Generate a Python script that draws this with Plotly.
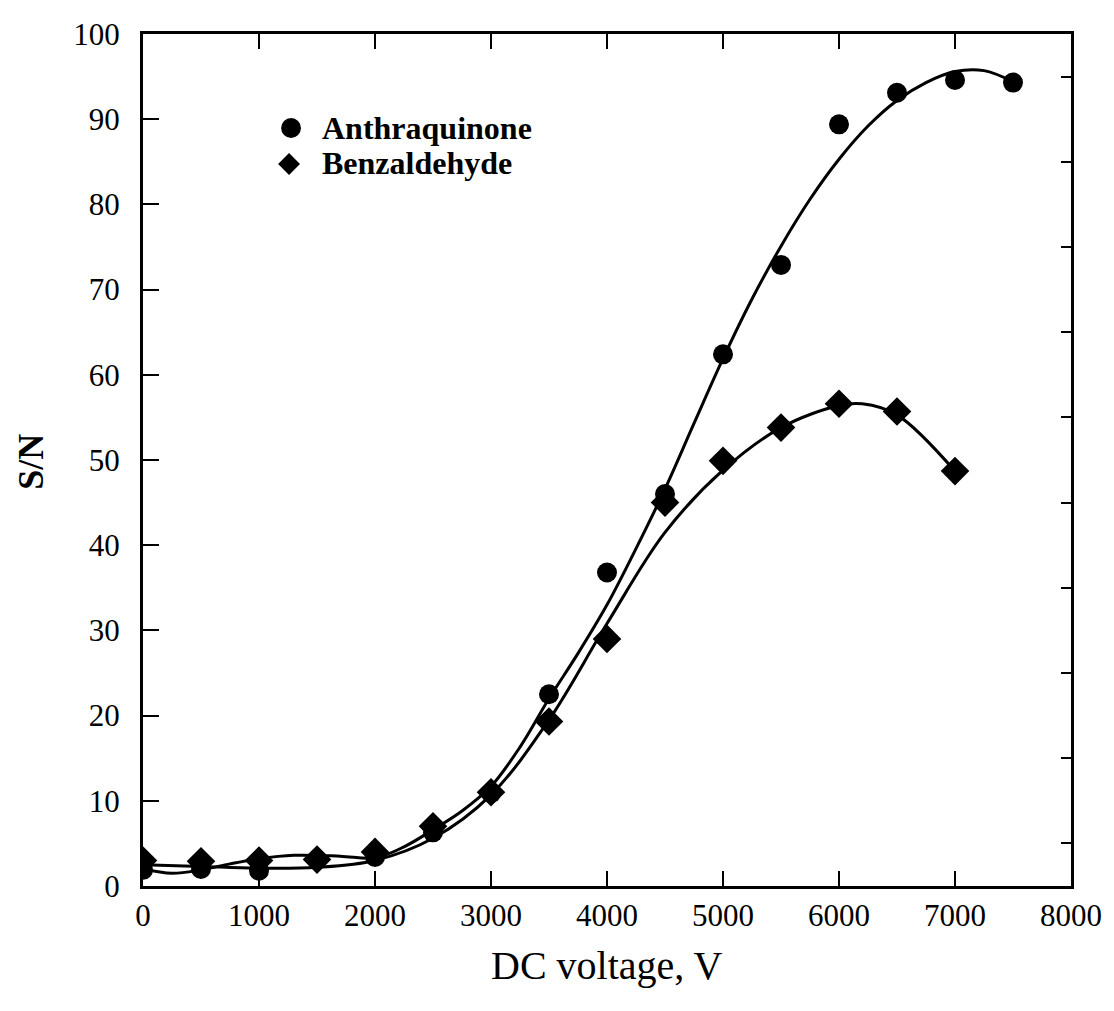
import plotly.graph_objects as go

# Measured data points
volt_a = [0, 500, 1000, 2000, 2500, 3000, 3500, 4000, 4500, 5000, 5500, 6000, 6500, 7000, 7500]
sn_a = [1.9, 2.0, 1.8, 3.4, 6.3, 10.9, 22.5, 36.8, 46.0, 62.4, 72.9, 89.4, 93.1, 94.6, 94.3]

volt_b = [0, 500, 1000, 1500, 2000, 2500, 3000, 3500, 4000, 4500, 5000, 5500, 6000, 6500, 7000]
sn_b = [3.0, 2.9, 3.0, 3.1, 4.0, 7.0, 11.0, 19.3, 29.0, 45.0, 49.9, 53.8, 56.6, 55.7, 48.7]

# Fitted curves
fit_volt_a = [0, 250, 500, 750, 1000, 1300, 1700, 2000, 2250, 2500, 2750, 3000, 3250, 3500, 3750,
              4000, 4250, 4500, 4750, 5000, 5250, 5500, 5750, 6000, 6250, 6500, 6750, 7000, 7250, 7500]
fit_sn_a = [2.0, 1.5, 1.9, 2.6, 3.2, 3.6, 3.5, 3.3, 4.6, 6.6, 8.8, 11.7, 16.3, 22.0, 27.3,
            33.0, 39.6, 46.6, 54.3, 61.9, 68.9, 75.1, 80.6, 85.3, 89.2, 92.2, 94.3, 95.6, 95.7, 94.4]

fit_volt_b = [0, 500, 1000, 1500, 2000, 2500, 3000, 3500, 4000, 4500, 5000, 5500, 6000, 6200,
              6500, 7000]
fit_sn_b = [2.5, 2.3, 2.1, 2.2, 3.0, 5.6, 10.7, 19.5, 30.8, 41.5, 48.8, 53.8, 56.4, 56.6,
            55.3, 48.7]

x_ticks = [0, 1000, 2000, 3000, 4000, 5000, 6000, 7000, 8000]
y_ticks = [0, 10, 20, 30, 40, 50, 60, 70, 80, 90, 100]
y_right_ticks = [5, 15, 25, 35, 45, 55, 65, 75, 85, 95]
legend_names = ["Anthraquinone", "Benzaldehyde"]

FONT = "Liberation Serif"
W, H = 1114, 1011
L, R, T, B = 143, 37, 34, 125
PW, PH = W - L - R, H - T - B


def px(xp):
    return (xp - L) / PW


def py(yp):
    return (H - B - yp) / PH


fig = go.Figure()

fig.add_trace(go.Scatter(x=fit_volt_a, y=fit_sn_a, mode="lines", line=dict(color="black", width=3, shape="spline", smoothing=1.0), showlegend=False, hoverinfo="skip"))
fig.add_trace(go.Scatter(x=fit_volt_b, y=fit_sn_b, mode="lines", line=dict(color="black", width=3, shape="spline", smoothing=1.0), showlegend=False, hoverinfo="skip"))

fig.add_trace(go.Scatter(x=volt_a, y=sn_a, mode="markers", name=legend_names[0], showlegend=False,
                         marker=dict(symbol="circle", size=20, color="black")))
fig.add_trace(go.Scatter(x=volt_b, y=sn_b, mode="markers", name=legend_names[1], showlegend=False,
                         marker=dict(symbol="diamond", size=22, color="black")))

# invisible trace to carry the right-hand axis
fig.add_trace(go.Scatter(x=[None], y=[None], yaxis="y2", showlegend=False, hoverinfo="skip"))

axis_common = dict(showgrid=False, zeroline=False, showline=True, linecolor="black", linewidth=3,
                   ticks="inside", tickwidth=2, tickcolor="black")

# Legend drawn as shapes + text
shapes = [
    dict(type="circle", xref="paper", yref="paper",
         x0=px(282), x1=px(302), y0=py(138), y1=py(118), fillcolor="black", line=dict(width=0)),
    dict(type="path", xref="paper", yref="paper",
         path=f"M {px(279)} {py(164)} L {px(290)} {py(153)} L {px(301)} {py(164)} L {px(290)} {py(175)} Z",
         fillcolor="black", line=dict(width=0)),
]

annotations = [
    dict(text=f"<b>{legend_names[0]}</b>", x=px(321), y=py(128), xref="paper", yref="paper",
         xanchor="left", yanchor="middle", showarrow=False,
         font=dict(family=FONT, size=32, color="black")),
    dict(text=f"<b>{legend_names[1]}</b>", x=px(321), y=py(163), xref="paper", yref="paper",
         xanchor="left", yanchor="middle", showarrow=False,
         font=dict(family=FONT, size=32, color="black")),
    dict(text="<b>S/N</b>", x=px(30), y=py(462), xref="paper", yref="paper", showarrow=False,
         textangle=-90, xanchor="center", yanchor="middle",
         font=dict(family=FONT, size=36, color="black")),
    dict(text="DC voltage, V", x=px(610), y=py(965), xref="paper", yref="paper", showarrow=False,
         xanchor="center", yanchor="middle", font=dict(family=FONT, size=40, color="black")),
]

fig.update_layout(
    width=W, height=H,
    margin=dict(l=L, r=R, t=T, b=B),
    paper_bgcolor="white", plot_bgcolor="white",
    font=dict(family=FONT, color="black"),
    xaxis=dict(range=[0, 8000], tickvals=x_ticks, ticktext=[str(v) for v in x_ticks],
               mirror="ticks", ticklen=15, tickfont=dict(family=FONT, size=31, color="black"),
               ticklabelstandoff=0, **axis_common),
    yaxis=dict(range=[0, 100], tickvals=y_ticks, ticktext=[str(v) for v in y_ticks],
               mirror=True, ticklen=16, tickfont=dict(family=FONT, size=31, color="black"),
               ticklabelstandoff=14, **axis_common),
    yaxis2=dict(range=[0, 100], overlaying="y", side="right", tickvals=y_right_ticks,
                ticklen=10, showticklabels=False, **axis_common),
    showlegend=False,
    shapes=shapes,
    annotations=annotations,
)

fig.write_html("out.html")
